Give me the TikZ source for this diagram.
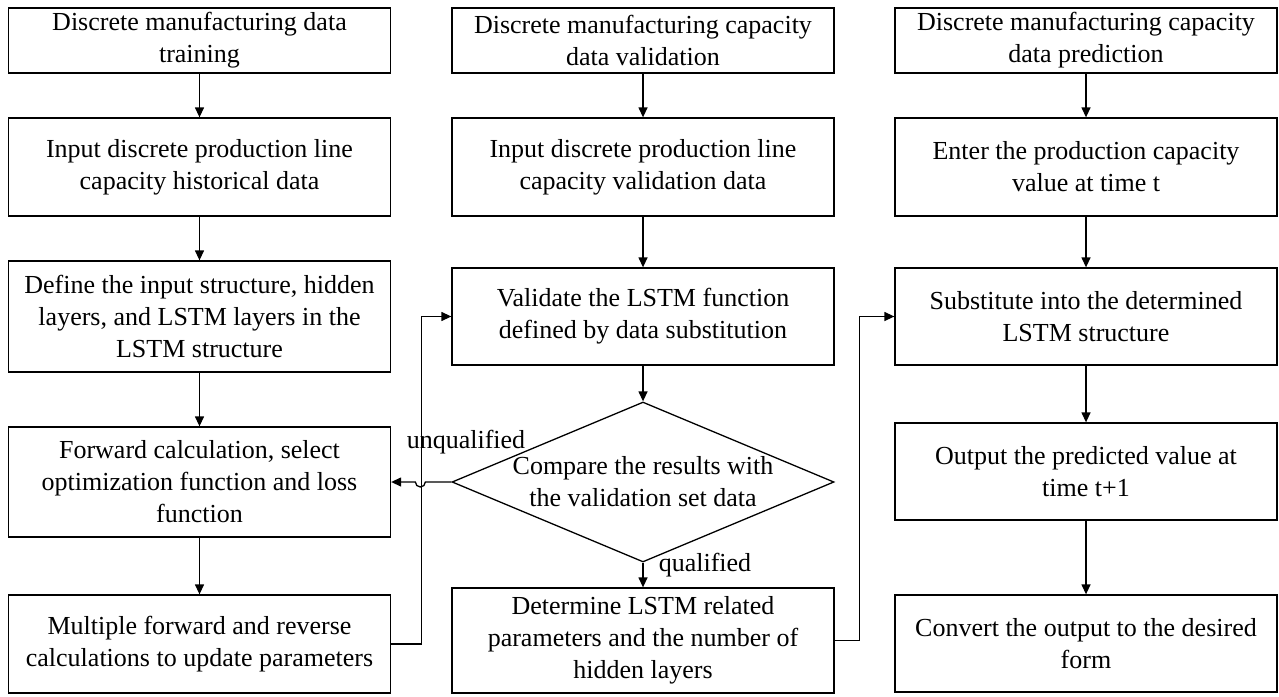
\documentclass[tikz,border=0pt]{standalone}
\usepackage{fontspec}
\setmainfont{Liberation Serif}
\usetikzlibrary{shapes.geometric,arrows.meta}

\begin{document}
\begin{tikzpicture}[
    x=1pt, y=-1pt,
    font=\fontsize{26}{32}\selectfont,
    >={Triangle[length=10pt,width=9pt]},
    box/.style={rectangle, draw=black, line width=1.3pt, minimum width=382pt, align=center, inner sep=2pt},
    decide/.style={diamond, draw=black, line width=1.3pt, minimum width=382pt, minimum height=160pt, inner sep=0pt},
    tag/.style={inner sep=0pt},
    flow/.style={->, line width=1.3pt}
]
\useasboundingbox (0,0) rectangle (1279,696);

% Training column
\node[box, minimum height=65pt] (train) at (199.5,40.5) {Discrete manufacturing data\\ training};
\node[box, minimum height=98pt] (hist) at (199.5,167) {Input discrete production line\\ capacity historical data};
\node[box, minimum height=111pt] (struct) at (199.5,316.5) {Define the input structure, hidden\\ layers, and LSTM layers in the\\ LSTM structure};
\node[box, minimum height=110pt] (fwd) at (199.5,482) {Forward calculation, select\\ optimization function and loss\\ function};
\node[box, minimum height=98pt] (multi) at (199.5,644) {Multiple forward and reverse\\ calculations to update parameters};

% Validation column
\node[box, minimum height=65pt] (valtitle) at (643,40.5) {Discrete manufacturing capacity\\ data validation};
\node[box, minimum height=98pt] (valin) at (643,167) {Input discrete production line\\ capacity validation data};
\node[box, minimum height=97pt] (valid) at (643,316.5) {Validate the LSTM function\\ defined by data substitution};
\node[decide] (cmp) at (643,482) {};
\node[tag, align=center] (cmptxt) at (cmp) {Compare the results with\\ the validation set data};
\node[box, minimum height=105pt] (det) at (643,640.5) {Determine LSTM related\\ parameters and the number of\\ hidden layers};

% Prediction column
\node[box, minimum height=65pt] (predtitle) at (1086,40.5) {Discrete manufacturing capacity\\ data prediction};
\node[box, minimum height=98pt] (enter) at (1086,167) {Enter the production capacity\\ value at time t};
\node[box, minimum height=97pt] (subst) at (1086,316.5) {Substitute into the determined\\ LSTM structure};
\node[box, minimum height=97pt] (outp) at (1086,471.5) {Output the predicted value at\\ time t+1};
\node[box, minimum height=97pt] (conv) at (1086,643.5) {Convert the output to the desired\\ form};

% Branch labels
\node[tag] (unq) at (466,442) {unqualified};
\node[tag] (qual) at (705,565) {qualified};

% Arrows
\draw[flow] (train) -- (hist);
\draw[flow] (hist) -- (struct);
\draw[flow] (struct) -- (fwd);
\draw[flow] (fwd) -- (multi);

\draw[flow] (valtitle) -- (valin);
\draw[flow] (valin) -- (valid);
\draw[flow] (valid) -- (cmp);
\draw[flow] (cmp) -- (det);

\draw[flow] (predtitle) -- (enter);
\draw[flow] (enter) -- (subst);
\draw[flow] (subst) -- (outp);
\draw[flow] (outp) -- (conv);

\draw[flow] (multi.east) -- ++(30,0) |- (valid.west);
\draw[flow] (cmp.west) -- ++(-26,0) arc[start angle=0, end angle=180, radius=5] -- (fwd.east);
\draw[flow] (det.east) -- ++(25,0) |- (subst.west);

\end{tikzpicture}
\end{document}
